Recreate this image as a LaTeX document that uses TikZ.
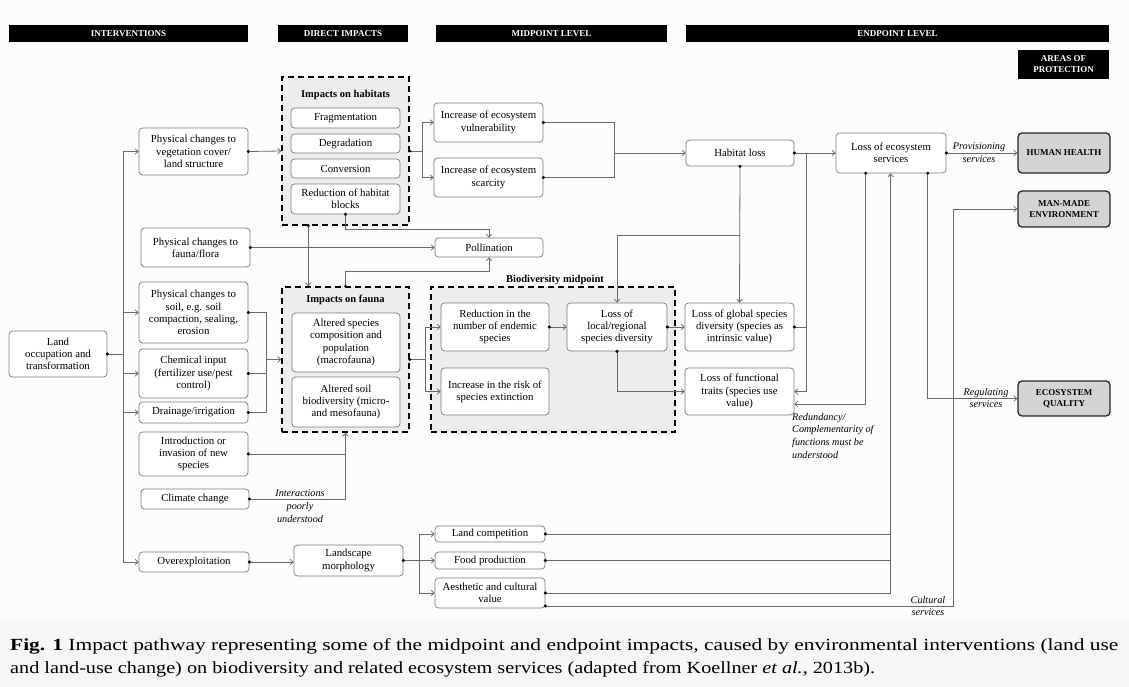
\documentclass[tikz,border=0pt]{standalone}
\usepackage{fontspec}
\setmainfont{Liberation Serif}
\usetikzlibrary{arrows.meta,calc}
\definecolor{boxgray}{HTML}{7A7A7A}
\definecolor{linegray}{HTML}{6A6A6A}
\definecolor{grpfill}{HTML}{EDEDED}
\definecolor{aopfill}{HTML}{D4D4D4}
\definecolor{bgtop}{HTML}{FCFCFC}
\definecolor{bgbot}{HTML}{F5F6F8}
\newcommand{\mybox}[7][bx]{\node[#1,minimum width={#5-#3},minimum height={#6-#4}] (#2) at ({(#3+#5)/2},{(#4+#6)/2}) {#7};}
\newcommand{\dt}[1]{\fill[black] (#1) circle (1.7pt);}
\begin{document}
\begin{tikzpicture}[x=1pt,y=-1pt,
  bx/.style={draw=boxgray, line width=0.7pt, rounded corners=3.5pt, fill=white, align=center, font=\fontsize{10.8}{12.3}\selectfont, inner sep=0pt},
  grp/.style={draw=black, line width=1.4pt, dash pattern=on 6pt off 4pt, fill=grpfill, inner sep=0pt},
  hdr/.style={fill=black, text=white, align=center, font=\bfseries\fontsize{9}{11}\selectfont, inner sep=0pt},
  aop/.style={draw=black!85, line width=1.3pt, rounded corners=4pt, fill=aopfill, align=center, font=\bfseries\fontsize{9}{11.5}\selectfont, inner sep=0pt},
  gtitle/.style={font=\bfseries\fontsize{10.5}{12}\selectfont, inner sep=1pt},
  ln/.style={draw=linegray, line width=0.8pt},
  arr/.style={ln, -{Straight Barb[length=3pt,width=5.5pt]}},
  lab/.style={font=\itshape\fontsize{10.2}{12.7}\selectfont, align=center, inner sep=1pt},
  capt/.style={anchor=base west, inner sep=0pt, font=\fontsize{17}{20}\selectfont}]
\useasboundingbox (0,0) rectangle (1129,687);
\fill[bgtop] (0,0) rectangle (1129,619);
\fill[bgbot] (0,619) rectangle (1129,687);

% headers
\mybox[hdr]{hInt}{9}{25}{248}{42}{INTERVENTIONS}
\mybox[hdr]{hDir}{278}{25}{408}{42}{DIRECT IMPACTS}
\mybox[hdr]{hMid}{436}{25}{667}{42}{MIDPOINT LEVEL}
\mybox[hdr]{hEnd}{686}{25}{1109}{42}{ENDPOINT LEVEL}
\mybox[hdr]{hAoP}{1018}{50}{1109}{79}{AREAS OF\\PROTECTION}

% groups
\mybox[grp]{gHab}{282}{77}{409}{225}{}
\mybox[grp]{gFau}{282}{287}{409}{432}{}
\mybox[grp]{gBio}{431}{287}{675}{432}{}
\node[gtitle] (tHab) at (345.5,95) {Impacts on habitats};
\node[gtitle] (tFau) at (345.5,300) {Impacts on fauna};
\node[gtitle] (tBio) at (555,280) {Biodiversity midpoint};

% interventions
\mybox{land}{9}{331}{107}{377}{Land\\occupation and\\transformation}
\mybox{veg}{139}{128}{248}{175}{Physical changes to\\vegetation cover/\\land structure}
\mybox{ff}{141}{228}{250}{267}{Physical changes to\\fauna/flora}
\mybox{soil}{139}{282}{248}{343}{Physical changes to\\soil, e.g. soil\\compaction, sealing,\\erosion}
\mybox{chem}{139}{349}{248}{398}{Chemical input\\(fertilizer use/pest\\control)}
\mybox{drain}{139}{402}{248}{423}{Drainage/irrigation}
\mybox{intro}{139}{432}{248}{476}{Introduction or\\invasion of new\\species}
\mybox{clim}{141}{489}{249}{509}{Climate change}
\mybox{over}{139}{552}{249}{572}{Overexploitation}

% direct impacts
\mybox{frag}{291}{108}{400}{128}{Fragmentation}
\mybox{degr}{291}{134}{400}{153}{Degradation}
\mybox{conv}{291}{159}{400}{178}{Conversion}
\mybox{redh}{291}{184}{400}{214}{Reduction of habitat\\blocks}
\mybox{comp}{292}{313}{400}{372}{Altered species\\composition and\\population\\(macrofauna)}
\mybox{soilb}{292}{377}{400}{427}{Altered soil\\biodiversity (micro-\\and mesofauna)}
\mybox{morph}{294}{545}{403}{576}{Landscape\\morphology}

% midpoint
\mybox{vul}{434}{103}{543}{142}{Increase of ecosystem\\vulnerability}
\mybox{scar}{434}{158}{543}{197}{Increase of ecosystem\\scarcity}
\mybox{poll}{435}{238}{543}{257}{Pollination}
\mybox{endem}{441}{303}{549}{351}{Reduction in the\\number of endemic\\species}
\mybox{risk}{441}{368}{549}{415}{Increase in the risk of\\species extinction}
\mybox{local}{567}{303}{667}{351}{Loss of\\local/regional\\species diversity}
\mybox{landc}{435}{526}{545}{542}{Land competition}
\mybox{food}{435}{552}{545}{569}{Food production}
\mybox{aest}{435}{578}{545}{608}{Aesthetic and cultural\\value}

% endpoint
\mybox{glob}{685}{303}{794}{351}{Loss of global species\\diversity (species as\\intrinsic value)}
\mybox{func}{685}{368}{794}{415}{Loss of functional\\traits (species use\\value)}
\mybox{hab}{686}{140}{794}{166}{Habitat loss}
\mybox{ess}{836}{133}{946}{173}{Loss of ecosystem\\services}

% areas of protection
\mybox[aop]{hh}{1018}{133}{1110}{173}{HUMAN HEALTH}
\mybox[aop]{mme}{1018}{191}{1110}{227}{MAN-MADE\\ENVIRONMENT}
\mybox[aop]{eq}{1018}{381}{1110}{416}{ECOSYSTEM\\QUALITY}

% ---------------- connectors
\coordinate (t) at (123,354);
\draw[ln] (land.east) -- (t);
\foreach \n in {veg,soil,chem,drain,over} \draw[arr] (t) |- (\n.west);

\draw[arr] (veg.east) -- (gHab.west);
\draw[arr] (gHab.east) -- ++(13,0) |- (vul.west);
\draw[arr] (gHab.east) -- ++(13,0) |- (scar.west);
\coordinate (m1) at (614,153);
\draw[ln] (vul.east) -| (m1);
\draw[ln] (scar.east) -| (m1);
\draw[arr] (m1) -- (hab.west);

\draw[arr] (ff.east) -- (poll.west);
\draw[arr] (redh.south) -- ++(0,15) -| (poll.north);
\draw[arr] ([xshift=27pt]gHab.south west) -- ([xshift=27pt]gFau.north west);
\draw[arr] (gFau.north) -- ++(0,-15) -| (poll.south);

\coordinate (fb) at (266,359.5);
\draw[ln] (soil.east) -| (fb);
\draw[ln] (drain.east) -| (fb);
\draw[ln] (chem.east) -- (chem.east -| fb);
\draw[arr] (fb) -- (gFau.west);

\draw[ln] (intro.east) -- (intro.east -| gFau.south);
\draw[arr] (clim.east) -| (gFau.south);

\draw[arr] (gFau.east) -- ++(16,0) |- (endem.west);
\draw[arr] (gFau.east) -- ++(16,0) |- (risk.west);
\draw[arr] (endem.east) -- (local.west);
\draw[arr] (local.east) -- (glob.west);
\draw[arr] (local.south) |- (func.west);

\coordinate (hbY) at (0,235);
\coordinate (hb) at (hab.south |- hbY);
\draw[arr] (hab.south) -- (glob.north);
\draw[arr] (hb) -| (local.north);
\draw[arr] (hab.east) -- (ess.west);
\coordinate (hr) at (806,153);
\draw[arr] (hr) |- (func.east);
\draw[ln] (glob.east) -- (glob.east -| hr);

\coordinate (es1) at ([xshift=30pt]ess.south west);
\coordinate (es2) at ([xshift=55pt]ess.south west);
\coordinate (es3) at ([xshift=92pt]ess.south west);
\draw[arr] (es1) |- ($(func.east)+(0,12.5)$);
\draw[arr] (es3) |- (eq.west);
\draw[arr] (ess.east) -- (hh.west);

\draw[arr] (over.east) -- (over.east -| morph.west);
\draw[arr] (morph.east) -- ++(16,0) |- (landc.west);
\draw[arr] (morph.east) -- ++(16,0) |- (food.west);
\draw[arr] (morph.east) -- ++(16,0) |- (aest.west);

\draw[ln] (landc.east) -- (landc.east -| es2);
\draw[ln] (food.east) -- (food.east -| es2);
\draw[ln] (aest.east) -- (aest.east -| es2);
\draw[arr] (aest.east -| es2) -- (es2);
\coordinate (ae2) at ($(aest.east)+(0,13)$);
\coordinate (cx) at (953,0);
\draw[arr] (ae2) -- (ae2 -| cx) |- (mme.west);

% dots
\foreach \p in {land.east,veg.east,gHab.east,vul.east,scar.east,ff.east,redh.south,gFau.north,soil.east,chem.east,drain.east,intro.east,clim.east,gFau.east,endem.east,local.east,local.south,hab.south,hab.east,glob.east,es1,es3,ess.east,over.east,morph.east,landc.east,food.east,aest.east,ae2} {\dt{\p}}
\dt{[xshift=27pt]gHab.south west}

% labels
\node[lab] (lInt) at (300,506) {Interactions\\poorly\\understood};
\node[lab] (lProv) at (979,153) {Provisioning\\services};
\node[lab] (lReg) at (986,398) {Regulating\\services};
\node[lab] (lCul) at (928,606) {Cultural\\services};
\node[lab, align=left, anchor=north west] (lRed) at (791,412) {Redundancy/\\Complementarity of\\functions must be\\understood};

% caption
\node[capt] (cap1) at (10,650) {\resizebox{1108pt}{\height}{\textbf{Fig. 1} Impact pathway representing some of the midpoint and endpoint impacts, caused by environmental interventions (land use}};
\node[capt] (cap2) at (10,673) {\resizebox{865pt}{\height}{and land-use change) on biodiversity and related ecosystem services (adapted from Koellner \textit{et al.}, 2013b).}};
\end{tikzpicture}
\end{document}
